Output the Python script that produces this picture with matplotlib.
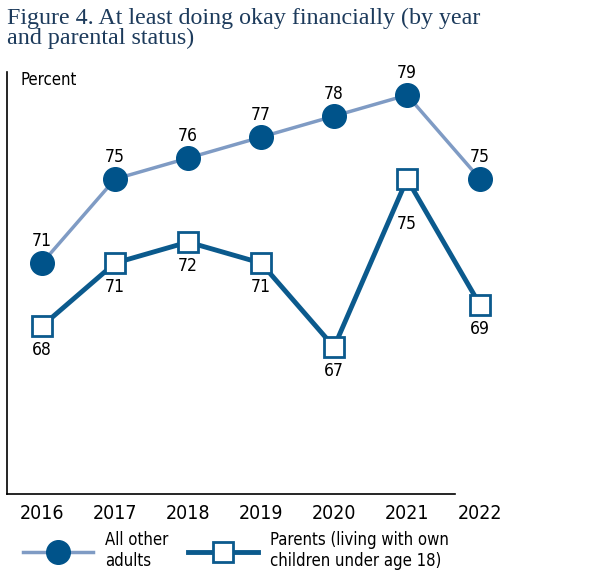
import matplotlib
matplotlib.use("Agg")
import matplotlib.pyplot as plt
from matplotlib.lines import Line2D
from matplotlib import font_manager
from matplotlib.font_manager import FontProperties

years = [2016, 2017, 2018, 2019, 2020, 2021, 2022]
all_other_adults = [71, 75, 76, 77, 78, 79, 75]
parents = [68, 71, 72, 71, 67, 75, 69]
series_labels = ["All other\nadults", "Parents (living with own\nchildren under age 18)"]
title = "Figure 4. At least doing okay financially (by year\nand parental status)"

# look for a condensed / narrow sans font
cond = None
for f in font_manager.fontManager.ttflist:
    nm = f.name.lower()
    st = str(f.stretch).lower()
    if f.style == "normal" and str(f.weight) in ("400", "normal") and (
            "narrow" in nm or "condensed" in nm or st in ("condensed", "semi-condensed")):
        if "sans" in nm or "roboto" in nm or "liberation" in nm:
            cond = f.fname
            break


def fp(size):
    if cond:
        return FontProperties(fname=cond, size=size)
    return FontProperties(family="Liberation Sans", size=size)


dark = "#00538a"
light = "#7f9bc4"
pline = "#0b5a8d"

fig = plt.figure(figsize=(5.94, 5.76), dpi=100)
W, H = 594, 576
ax = fig.add_axes([7 / W, 1 - 494 / H, (510 - 7) / W, (494 - 72) / H])

ax.plot(years, all_other_adults, color=light, lw=2.5, marker="o", ms=17,
        mfc=dark, mec=dark, zorder=3)
ax.plot(years, parents, color=pline, lw=3.5, marker="s", ms=15,
        mfc="white", mec=pline, mew=2, zorder=3)

for x, y in zip(years, all_other_adults):
    ax.annotate(str(y), (x, y), xytext=(0, 9.5), textcoords="offset points",
                ha="center", va="bottom", fontproperties=fp(12.5))
for x, y in zip(years, parents):
    dy = -26 if x == 2021 else -11
    ax.annotate(str(y), (x, y), xytext=(0, dy), textcoords="offset points",
                ha="center", va="top", fontproperties=fp(12.5))

ax.set_xlim(2015.52, 2022.41)
ax.set_ylim(60, 80.1)
ax.set_xticks(years)
ax.set_xticklabels([str(y) for y in years])
for lab in ax.get_xticklabels():
    lab.set_fontproperties(fp(14))
ax.tick_params(axis="x", length=0, pad=7)
ax.set_yticks([])
for s in ["top", "right"]:
    ax.spines[s].set_visible(False)
ax.spines["left"].set_linewidth(1.2)
ax.spines["bottom"].set_linewidth(1.2)
ax.spines["bottom"].set_bounds(2015.52, 2021.66)

ax.text(21 / W, 1 - 80 / H, "Percent", transform=fig.transFigure,
        fontproperties=fp(12), va="center", ha="left")

fig.text(7 / W, 1 - 8 / H, title, fontsize=17.3, family="Liberation Serif",
         color="#1d3b5c", va="top", ha="left", linespacing=0.9)

handles = [
    Line2D([0], [0], color=light, lw=2.5, marker="o", ms=17, mfc=dark, mec=dark),
    Line2D([0], [0], color=pline, lw=3.5, marker="s", ms=15, mfc="white", mec=pline, mew=2),
]
anchors_x = [23, 188]
for h, lab, ax_x in zip(handles, series_labels, anchors_x):
    fig.legend([h], [lab], loc="upper left", bbox_to_anchor=(ax_x / W, 1 - 531 / H),
               frameon=False, prop=fp(12), handlelength=4.2, handletextpad=0.7,
               borderaxespad=0, borderpad=0)

fig.savefig("out.png", dpi=100)
